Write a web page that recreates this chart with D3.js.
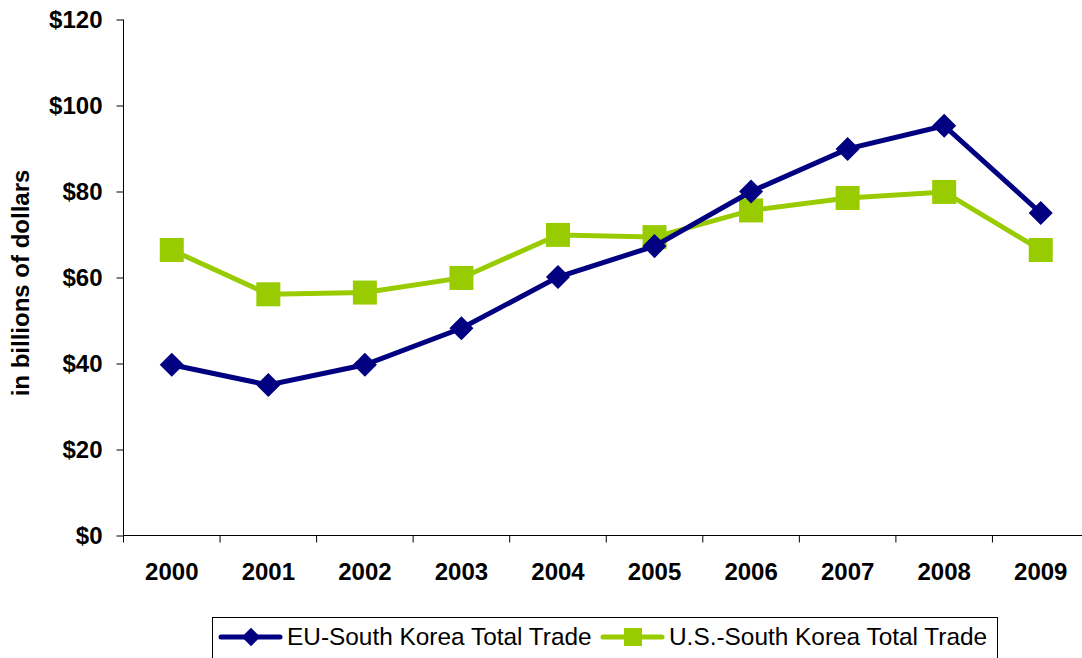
<!DOCTYPE html>
<meta charset="utf-8">
<head>
<title>EU vs US trade with South Korea</title>
</head>
<style>
body { margin: 0; background: #fff; font-family: Arial, "Liberation Sans", sans-serif; }
.tick text { font-weight: bold; font-size: 24px; fill: #000; font-family: Arial, "Liberation Sans", sans-serif; }
</style>
<body>
<script src="https://d3js.org/d3.v7.min.js"></script>
<script>

// chart data (billions of dollars)
var years = ["2000","2001","2002","2003","2004","2005","2006","2007","2008","2009"];
var euTrade = [39.7, 35.0, 39.7, 48.2, 60.1, 67.3, 80.0, 89.9, 95.3, 75.0];
var usTrade = [66.4, 56.1, 56.5, 59.9, 69.9, 69.4, 75.6, 78.5, 79.9, 66.4];
var yTicks = [0, 20, 40, 60, 80, 100, 120];
var seriesNames = ["EU-South Korea Total Trade", "U.S.-South Korea Total Trade"];

var W = 1082, H = 658;
var mLeft = 123.5, mRight = 1089, mTop = 19.5, mBottom = 535.5;

var svg = d3.select("body")
    .append("svg")
    .attr("width", W)
    .attr("height", H);

var x = d3.scaleBand().domain(years).range([mLeft, mRight]).padding(0);
var y = d3.scaleLinear().domain([0, 120]).range([mBottom, mTop]);

// y axis
var yAxis = svg.append("g")
    .attr("transform", "translate(" + mLeft + ",0)")
    .call(d3.axisLeft(y).tickValues(yTicks).tickSize(7).tickPadding(14)
        .tickFormat(function(d){ return "$" + d; }));
yAxis.selectAll("line").attr("stroke", "#000");
yAxis.select(".domain").attr("stroke", "#000").attr("d", "M0," + mTop + "V" + mBottom);

// x axis: labels at band centres, ticks at band edges
var xAxis = svg.append("g")
    .attr("transform", "translate(0," + mBottom + ")")
    .call(d3.axisBottom(x).tickSize(0).tickPadding(27.5));
xAxis.select(".domain").attr("stroke", "#000").attr("d", "M" + mLeft + ",0H" + mRight);

var edges = years.map(function(d){ return x(d); }).concat([mRight]);
svg.append("g")
   .selectAll("line")
   .data(edges)
   .enter()
   .append("line")
   .attr("x1", function(d){ return d; })
   .attr("x2", function(d){ return d; })
   .attr("y1", mBottom)
   .attr("y2", mBottom + 7)
   .attr("stroke", "#000");

// y axis title
svg.append("text")
   .attr("transform", "translate(29,283) rotate(-90)")
   .attr("text-anchor", "middle")
   .style("font-weight", "bold")
   .style("font-size", "24px")
   .text("in billions of dollars");

var cx = function(d, i){ return x(years[i]) + x.bandwidth() / 2; };

var line = d3.line()
    .x(cx)
    .y(function(d){ return y(d); });

var diamond = d3.symbol().type(d3.symbolSquare).size(290);

// U.S. series
svg.append("path")
   .attr("d", line(usTrade))
   .attr("fill", "none")
   .attr("stroke", "#99cc00")
   .attr("stroke-width", 5);

svg.append("g")
   .selectAll("rect")
   .data(usTrade)
   .enter()
   .append("rect")
   .attr("x", function(d, i){ return cx(d, i) - 12; })
   .attr("y", function(d){ return y(d) - 12; })
   .attr("width", 24)
   .attr("height", 24)
   .attr("fill", "#99cc00");

// EU series
svg.append("path")
   .attr("d", line(euTrade))
   .attr("fill", "none")
   .attr("stroke", "#000080")
   .attr("stroke-width", 5);

svg.append("g")
   .selectAll("path")
   .data(euTrade)
   .enter()
   .append("path")
   .attr("d", diamond)
   .attr("transform", function(d, i){ return "translate(" + cx(d, i) + "," + y(d) + ") rotate(45)"; })
   .attr("fill", "#000080");

// legend
var lg = svg.append("g");
lg.append("rect")
  .attr("x", 212.5).attr("y", 617.5)
  .attr("width", 785).attr("height", 45)
  .attr("fill", "#fff").attr("stroke", "#000");

var legendItems = [
  { name: seriesNames[0], color: "#000080", x0: 221, kind: "diamond" },
  { name: seriesNames[1], color: "#99cc00", x0: 603, kind: "square" }
];

legendItems.forEach(function(it){
  var ly = 637;
  lg.append("line")
    .attr("x1", it.x0).attr("x2", it.x0 + 59)
    .attr("y1", ly).attr("y2", ly)
    .attr("stroke", it.color).attr("stroke-width", 5)
    .attr("stroke-linecap", "round");
  if (it.kind == "diamond") {
    lg.append("path")
      .attr("d", d3.symbol().type(d3.symbolSquare).size(170))
      .attr("transform", "translate(" + (it.x0 + 30) + "," + ly + ") rotate(45)")
      .attr("fill", it.color);
  } else {
    lg.append("rect")
      .attr("x", it.x0 + 21).attr("y", ly - 9)
      .attr("width", 18).attr("height", 18)
      .attr("fill", it.color);
  }
  lg.append("text")
    .attr("x", it.x0 + 66).attr("y", ly + 8)
    .style("font-size", "24.4px")
    .text(it.name);
});

</script>
</body>
